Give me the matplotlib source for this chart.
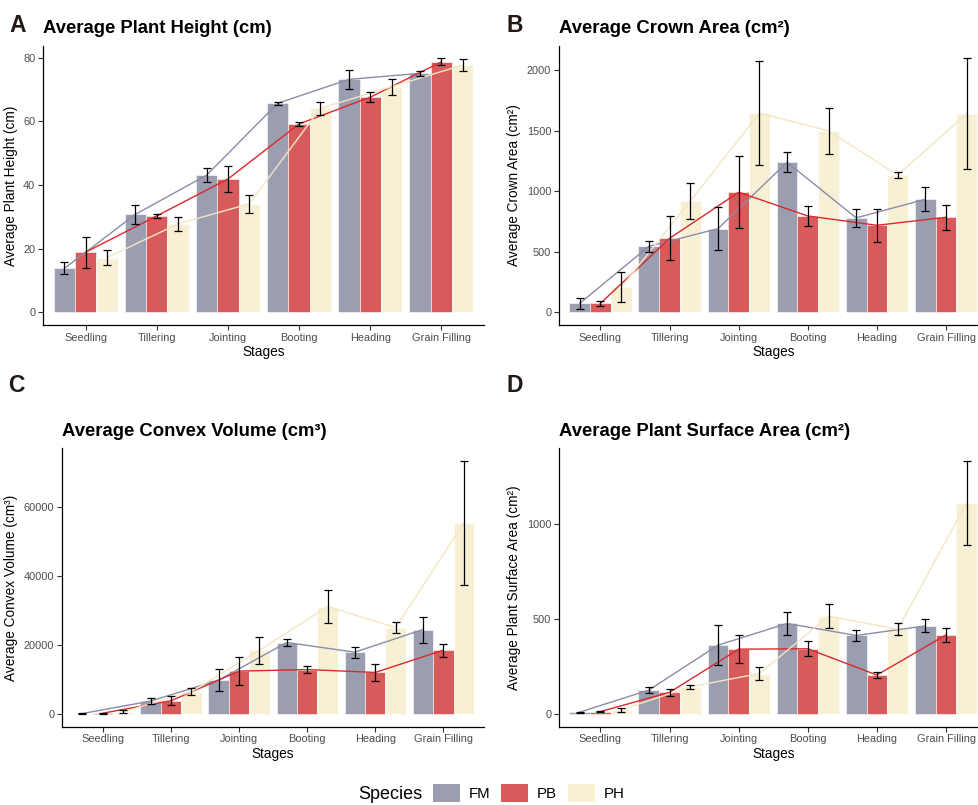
import numpy as np
import matplotlib
matplotlib.use("Agg")
import matplotlib.pyplot as plt
from matplotlib.patches import Patch

plt.rcParams['font.family'] = ['Liberation Sans', 'DejaVu Sans']

# data (mean and error bar half-length)
stages = ["Seedling", "Tillering", "Jointing", "Booting", "Heading", "Grain Filling"]
species = ["FM", "PB", "PH"]

height_fm = [13.8, 30.8, 43.1, 65.7, 73.2, 75.1]
height_pb = [18.9, 30.3, 41.9, 59.2, 67.6, 78.7]
height_ph = [17.2, 27.8, 34.1, 64.1, 70.9, 77.7]
height_fm_err = [1.9, 3.0, 2.2, 0.4, 3.1, 0.85]
height_pb_err = [4.9, 0.65, 4.1, 0.6, 1.55, 1.1]
height_ph_err = [2.45, 2.15, 2.9, 2.0, 2.55, 1.95]

crown_fm = [74, 545, 691, 1240, 780, 934]
crown_pb = [74, 611, 992, 796, 719, 785]
crown_ph = [207, 920, 1645, 1499, 1135, 1639]
crown_fm_err = [43, 46, 175, 84, 75, 98]
crown_pb_err = [22, 182, 296, 82, 135, 102]
crown_ph_err = [125, 150, 431, 190, 25, 459]

volume_fm = [150, 3760, 9840, 20740, 17940, 24500]
volume_pb = [250, 3850, 12440, 12900, 12060, 18520]
volume_ph = [670, 6450, 18500, 31160, 25080, 55370]
volume_fm_err = [120, 870, 3100, 1000, 1550, 3760]
volume_pb_err = [150, 1350, 4000, 1100, 2500, 1930]
volume_ph_err = [480, 970, 3900, 4900, 1700, 18000]

surface_fm = [10, 126, 362, 476, 413, 463]
surface_pb = [13, 114, 341, 343, 205, 416]
surface_ph = [22, 143, 213, 514, 446, 1110]
surface_fm_err = [3, 18, 106, 58, 29, 34]
surface_pb_err = [4, 20, 72, 40, 18, 37]
surface_ph_err = [10, 12, 32, 64, 31, 220]

bar_colors = ["#9B9DB1", "#D65B5A", "#F8F0D5"]
line_colors = ["#8A8DA8", "#D9292B", "#F4E6C3"]

W, H = 979, 805
fig = plt.figure(figsize=(W / 100, H / 100), dpi=100)


def px_axes(left, right, top, bottom):
    return fig.add_axes([left / W, 1 - bottom / H, (right - left) / W, (bottom - top) / H])


def draw_panel(ax, means, errs, title, ylabel, yticks):
    x = np.arange(len(stages))
    width = 0.3
    offsets = [-width, 0, width]
    top = 0
    for k in range(3):
        m = np.array(means[k])
        e = np.array(errs[k])
        xs = x + offsets[k]
        ax.bar(xs, m, width=width, color=bar_colors[k], edgecolor="white",
               linewidth=0.4, zorder=1)
        ax.plot(xs, m, color=line_colors[k], lw=1.0, zorder=2)
        top = max(top, (m + e).max())
    for k in range(3):
        xs = x + offsets[k]
        ax.errorbar(xs, means[k], yerr=errs[k], fmt="none", ecolor="black",
                    elinewidth=0.9, capsize=3.2, capthick=0.9, zorder=3)
    pad = 0.05 * top
    ax.set_ylim(-pad, top + pad)
    ax.set_xlim(-0.6, len(stages) - 0.4)
    ax.set_xticks(x)
    ax.set_xticklabels(stages)
    ax.set_yticks(yticks)
    ax.set_xlabel("Stages", fontsize=9.8, labelpad=2)
    ax.set_ylabel(ylabel, fontsize=9.8)
    ax.set_title(title, fontsize=13.3, fontweight="bold", loc="left", pad=9)
    for s in ["top", "right"]:
        ax.spines[s].set_visible(False)
    for s in ["left", "bottom"]:
        ax.spines[s].set_linewidth(0.9)
    ax.tick_params(axis="both", labelsize=7.9, labelcolor="#4D4D4D", color="#333333",
                   length=3.5, width=0.8, pad=2)


ax_a = px_axes(43, 484, 45.7, 325)
ax_b = px_axes(559, 987.5, 45.7, 325)
ax_c = px_axes(62, 484.2, 448.3, 726.7)
ax_d = px_axes(559, 987.5, 448.3, 726.7)

draw_panel(ax_a, [height_fm, height_pb, height_ph],
           [height_fm_err, height_pb_err, height_ph_err],
           "Average Plant Height (cm)", "Average Plant Height (cm)", [0, 20, 40, 60, 80])
draw_panel(ax_b, [crown_fm, crown_pb, crown_ph],
           [crown_fm_err, crown_pb_err, crown_ph_err],
           "Average Crown Area (cm²)", "Average Crown Area (cm²)", [0, 500, 1000, 1500, 2000])
draw_panel(ax_c, [volume_fm, volume_pb, volume_ph],
           [volume_fm_err, volume_pb_err, volume_ph_err],
           "Average Convex Volume (cm³)", "Average Convex Volume (cm³)", [0, 20000, 40000, 60000])
draw_panel(ax_d, [surface_fm, surface_pb, surface_ph],
           [surface_fm_err, surface_pb_err, surface_ph_err],
           "Average Plant Surface Area (cm²)", "Average Plant Surface Area (cm²)", [0, 500, 1000])

# panel letters
for letter, lx, ly in [("A", 9, 26), ("B", 506, 26), ("C", 8, 385), ("D", 506, 385)]:
    fig.text(lx / W, 1 - ly / H, letter, fontsize=16.5, fontweight="bold",
             color="#231815", va="center", ha="left")

# legend at the bottom
fig.text(358 / W, 1 - 794 / H, "Species", fontsize=13, va="center", ha="left")
handles = [Patch(facecolor=bar_colors[k], edgecolor="none", label=species[k]) for k in range(3)]
fig.legend(handles=handles, loc="center left", bbox_to_anchor=(433 / W, 1 - 793 / H),
           ncol=3, frameon=False, fontsize=10.8, handlelength=1.8, handleheight=1.45,
           handletextpad=0.6, columnspacing=0.7, borderpad=0, borderaxespad=0)

fig.savefig("out.png", dpi=100)
